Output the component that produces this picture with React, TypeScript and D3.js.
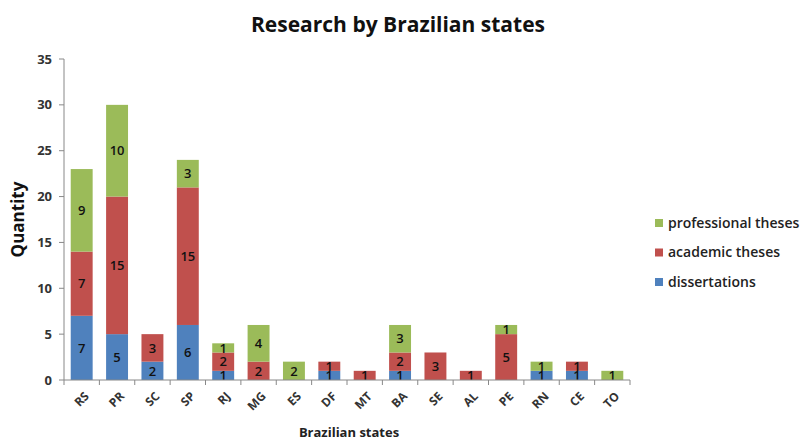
import React from "react";
import * as d3 from "d3";

const states = ["RS", "PR", "SC", "SP", "RJ", "MG", "ES", "DF", "MT", "BA", "SE", "AL", "PE", "RN", "CE", "TO"];
const dissertations = [7, 5, 2, 6, 1, 0, 0, 1, 0, 1, 0, 0, 0, 1, 1, 0];
const academicTheses = [7, 15, 3, 15, 2, 2, 0, 1, 1, 2, 3, 1, 5, 0, 1, 0];
const professionalTheses = [9, 10, 0, 3, 1, 4, 2, 0, 0, 3, 0, 0, 1, 1, 0, 1];
const yTicks = [0, 5, 10, 15, 20, 25, 30, 35];

const seriesKeys = ["dissertations", "academic theses", "professional theses"];
const seriesColors = ["#4F81BD", "#C0504D", "#9BBB59"];

const font = "'Open Sans', 'Liberation Sans', sans-serif";

const App = () => {
  const width = 801;
  const height = 441;
  const margin = { left: 64, right: 171, top: 59, bottom: 61 };
  const plotW = width - margin.left - margin.right;
  const plotH = height - margin.top - margin.bottom;

  const rows = states.map((s, i) => ({
    state: s,
    dissertations: dissertations[i],
    "academic theses": academicTheses[i],
    "professional theses": professionalTheses[i],
  }));

  const stacked = d3.stack<any>().keys(seriesKeys)(rows);

  const x = d3.scaleBand().domain(states).range([0, plotW]).paddingInner(0.38).paddingOuter(0.19);
  const y = d3.scaleLinear().domain([0, 35]).range([plotH, 0]);
  const step = x.step();
  const bandStart = (s: string) => (x(s) as number) - step * 0.19;

  const legendItems = [...seriesKeys].reverse();

  return (
    <svg width={width} height={height} style={{ position: "absolute", left: 0, top: 0, background: "#fff" }}>
      <text x={398} y={32} textAnchor="middle" fontFamily={font} fontWeight="bold" fontSize={21} fill="#111">
        Research by Brazilian states
      </text>
      <g transform={`translate(${margin.left},${margin.top})`}>
        {stacked.map((layer, li) => (
          <g key={layer.key} fill={seriesColors[li]}>
            {layer.map((d, i) =>
              d[1] - d[0] > 0 ? (
                <rect
                  key={i}
                  x={x(states[i])}
                  y={y(d[1])}
                  width={x.bandwidth()}
                  height={y(d[0]) - y(d[1])}
                />
              ) : null
            )}
          </g>
        ))}
        {stacked.map((layer) =>
          layer.map((d, i) =>
            d[1] - d[0] > 0 ? (
              <text
                key={layer.key + i}
                x={(x(states[i]) as number) + x.bandwidth() / 2}
                y={y((d[0] + d[1]) / 2)}
                dy="0.36em"
                textAnchor="middle"
                fontFamily={font}
                fontWeight={600}
                fontSize={13}
                fill="#111"
              >
                {d[1] - d[0]}
              </text>
            ) : null
          )
        )}
        {/* y axis */}
        <line x1={0} x2={0} y1={0} y2={plotH} stroke="#888" />
        {yTicks.map((t) => (
          <g key={t} transform={`translate(0,${y(t)})`}>
            <line x1={-5} x2={0} stroke="#888" />
            <text x={-12} dy="0.35em" textAnchor="end" fontFamily={font} fontWeight="bold" fontSize={13} fill="#333">
              {t}
            </text>
          </g>
        ))}
        {/* x axis */}
        <line x1={0} x2={plotW} y1={plotH} y2={plotH} stroke="#888" />
        {states.map((s) => (
          <line key={"t" + s} x1={bandStart(s)} x2={bandStart(s)} y1={plotH} y2={plotH + 5} stroke="#888" />
        ))}
        <line x1={plotW} x2={plotW} y1={plotH} y2={plotH + 5} stroke="#888" />
        {states.map((s) => {
          const cx = (x(s) as number) + x.bandwidth() / 2 + 5;
          return (
            <text
              key={"l" + s}
              transform={`translate(${cx},${plotH + 14}) rotate(-45)`}
              textAnchor="end"
              dy="0.35em"
              fontFamily={font}
              fontWeight="bold"
              fontSize={12}
              fill="#333"
            >
              {s}
            </text>
          );
        })}
        <text
          x={plotW / 2 + 2}
          y={plotH + 57}
          textAnchor="middle"
          fontFamily={font}
          fontWeight="bold"
          fontSize={13}
          fill="#222"
        >
          Brazilian states
        </text>
      </g>
      <text
        transform={`translate(24,${margin.top + plotH / 2}) rotate(-90)`}
        textAnchor="middle"
        fontFamily={font}
        fontWeight="bold"
        fontSize={17}
        fill="#111"
      >
        Quantity
      </text>
      {legendItems.map((k, i) => (
        <g key={k} transform={`translate(655,${223 + i * 29.5})`}>
          <rect x={0} y={-4} width={8} height={8} fill={seriesColors[seriesKeys.indexOf(k)]} />
          <text x={13} dy="0.35em" fontFamily={font} fontWeight={600} fontSize={14} fill="#222">
            {k}
          </text>
        </g>
      ))}
    </svg>
  );
};

export default App;
